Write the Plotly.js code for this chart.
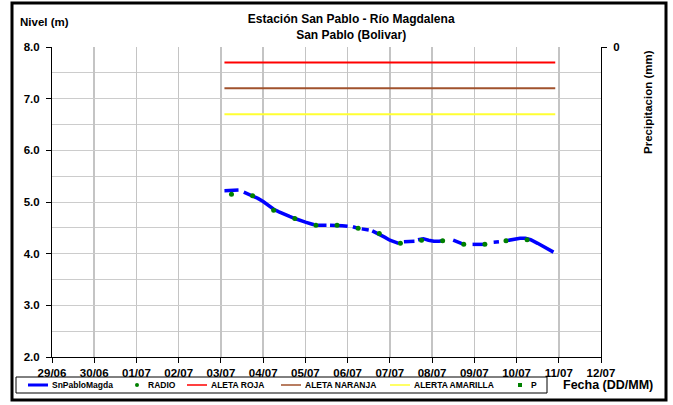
<!DOCTYPE html>
<html>
<head>
<meta charset="utf-8">
<script src="https://cdn.plot.ly/plotly-3.0.1.min.js"></script>
<style>
	html, body { margin: 0; padding: 0; background: #ffffff; }
	#plotContainer { width: 673px; height: 405px; }
</style>
</head>
<body>
<div id="plotContainer"></div>
<script>

// Blue level series (SnPabloMagda), null = missing reading
const levelTimes = [
	'2010-07-03 02:00', '2010-07-03 05:00', '2010-07-03 08:00', '2010-07-03 10:00', '2010-07-03 11:00',
	'2010-07-03 13:00', '2010-07-03 15:00', '2010-07-03 18:00', '2010-07-03 21:00', '2010-07-04 00:00',
	'2010-07-04 03:00', '2010-07-04 06:00', '2010-07-04 09:00', '2010-07-04 12:00', '2010-07-04 15:00',
	'2010-07-04 18:00', '2010-07-04 21:00', '2010-07-05 00:00', '2010-07-05 03:00', '2010-07-05 05:00',
	'2010-07-05 06:00', '2010-07-05 07:00', '2010-07-05 09:00', '2010-07-05 12:00', '2010-07-05 13:00',
	'2010-07-05 14:00', '2010-07-05 18:00', '2010-07-05 21:00', '2010-07-06 00:00', '2010-07-06 02:00',
	'2010-07-06 03:00', '2010-07-06 06:00', '2010-07-06 07:00', '2010-07-06 08:00', '2010-07-06 12:00',
	'2010-07-06 13:00', '2010-07-06 14:00', '2010-07-06 18:00', '2010-07-06 21:00', '2010-07-07 00:00',
	'2010-07-07 03:00', '2010-07-07 05:00', '2010-07-07 07:00', '2010-07-07 08:00', '2010-07-07 11:00',
	'2010-07-07 14:00', '2010-07-07 15:00', '2010-07-07 16:00', '2010-07-07 19:00', '2010-07-07 22:00',
	'2010-07-08 01:00', '2010-07-08 04:00', '2010-07-08 06:00', '2010-07-08 08:00', '2010-07-08 12:00',
	'2010-07-08 15:00', '2010-07-08 18:00', '2010-07-08 20:00', '2010-07-08 23:00', '2010-07-09 03:00',
	'2010-07-09 06:00', '2010-07-09 09:00', '2010-07-09 11:00', '2010-07-09 14:00', '2010-07-09 16:00',
	'2010-07-09 18:00', '2010-07-09 22:00', '2010-07-10 02:00', '2010-07-10 05:00', '2010-07-10 08:00',
	'2010-07-10 12:00', '2010-07-10 16:00', '2010-07-10 21:00'
];

const levelValues = [
	5.22, 5.23, 5.24, 5.23, null,
	5.19, 5.16, 5.12, 5.07, 5.01,
	4.93, 4.86, 4.81, 4.76, 4.72,
	4.68, 4.64, 4.61, 4.58, 4.56,
	null, 4.55, 4.55, 4.55, null,
	4.55, 4.55, 4.54, 4.53, null,
	4.52, 4.49, null, 4.48, 4.46,
	null, 4.44, 4.38, 4.32, 4.26,
	4.23, 4.20, null, 4.23, 4.24,
	4.24, null, 4.27, 4.29, 4.26,
	4.24, 4.24, 4.25, null, 4.26,
	4.22, 4.18, null, 4.18, 4.18,
	4.18, null, 4.22, 4.23, null,
	4.25, 4.28, 4.30, 4.30, 4.27,
	4.20, 4.12, 4.03
];

// Green RADIO readings, every 12 hours
const radioTimes = [
	'2010-07-03 06:00', '2010-07-03 18:00', '2010-07-04 06:00', '2010-07-04 18:00', '2010-07-05 06:00',
	'2010-07-05 18:00', '2010-07-06 06:00', '2010-07-06 18:00', '2010-07-07 06:00', '2010-07-07 18:00',
	'2010-07-08 06:00', '2010-07-08 18:00', '2010-07-09 06:00', '2010-07-09 18:00', '2010-07-10 06:00'
];

const radioValues = [
	5.15, 5.12, 4.84, 4.68, 4.55,
	4.55, 4.49, 4.39, 4.20, 4.26,
	4.25, 4.18, 4.18, 4.25, 4.27
];

// Alert thresholds
const alertSpan = [ '2010-07-03 02:00', '2010-07-10 22:00' ];
const alertRoja = 7.7;
const alertNaranja = 7.2;
const alertAmarilla = 6.7;

// Precipitation (no readings in this period)
const precipTimes = [ '2010-07-03 00:00' ];
const precipValues = [ null ];

const dayRange = [ '2010-06-29', '2010-07-12' ];

const legendNames = [ 'SnPabloMagda', 'RADIO', 'ALETA ROJA', 'ALETA NARANJA', 'ALERTA AMARILLA', 'P' ];
const legendColors = [ '#0000ff', '#008000', '#ff0000', '#a0522d', '#ffff33', '#008000' ];
const legendKinds = [ 'line', 'dot', 'line', 'line', 'line', 'square' ];

const boldFont = 'Liberation Sans, Arial, sans-serif';

// plot area in pixels
const M = { l: 52, r: 72, t: 47, b: 48 };
const plotW = 673 - M.l - M.r;
const plotH = 405 - M.t - M.b;

function px( x ) { return ( x - M.l ) / plotW; }
function py( y ) { return ( 405 - M.b - y ) / plotH; }

/**
 * Builds a flat alert line across the alert span.
 *
 * @param { String } name legend label
 * @param { Number } level alert level in metres
 * @param { String } color line colour
 */
function alertTrace( name, level, color ) {

	return {
		x: alertSpan,
		y: [ level, level ],
		name: name,
		type: 'scatter',
		mode: 'lines',
		line: { color: color, width: 2 }
	};

}

/**
 * Builds the boxed legend row under the plot (Excel style).
 *
 * @param { Array } shapes shapes list to push into
 * @param { Array } annotations annotations list to push into
 */
function buildLegend( shapes, annotations ) {

	// symbol start positions in pixels
	const starts = [ 28, 133, 187, 281, 390, 516 ];
	const yc = 385;

	shapes.push( {
		type: 'rect', xref: 'paper', yref: 'paper',
		x0: px( 16 ), x1: px( 547 ), y0: py( 393 ), y1: py( 377 ),
		line: { color: '#000000', width: 1 }, fillcolor: '#ffffff'
	} );

	for ( let i = 0; i < legendNames.length; i++ ) {

		const s = starts[ i ];
		let textX;

		if ( legendKinds[ i ] === 'line' ) {

			shapes.push( {
				type: 'line', xref: 'paper', yref: 'paper',
				x0: px( s ), x1: px( s + 20 ), y0: py( yc ), y1: py( yc ),
				line: { color: legendColors[ i ], width: i === 0 ? 3 : 1.5 }
			} );
			textX = s + 22;

		} else {

			shapes.push( {
				type: legendKinds[ i ] === 'dot' ? 'circle' : 'rect', xref: 'paper', yref: 'paper',
				x0: px( s + 2 ), x1: px( s + 6 ), y0: py( yc + 2 ), y1: py( yc - 2 ),
				line: { color: legendColors[ i ], width: 0 }, fillcolor: legendColors[ i ]
			} );
			textX = s + 13;

		}

		annotations.push( {
			text: legendNames[ i ],
			xref: 'paper', yref: 'paper',
			x: px( textX ), y: py( yc ),
			xanchor: 'left', yanchor: 'middle',
			showarrow: false,
			font: { family: boldFont, size: 8.5, weight: 'bold', color: '#000000' }
		} );

	}

}

/**
 * Creates level chart for San Pablo station.
 */
function createLevelChart() {

	const level = {
		x: levelTimes,
		y: levelValues,
		name: 'SnPabloMagda',
		type: 'scatter',
		mode: 'lines',
		connectgaps: false,
		line: { color: '#0000ff', width: 3.5 }
	};

	const radio = {
		x: radioTimes,
		y: radioValues,
		name: 'RADIO',
		type: 'scatter',
		mode: 'markers',
		marker: { color: '#008000', size: 5, symbol: 'circle' }
	};

	const precip = {
		x: precipTimes,
		y: precipValues,
		name: 'P',
		type: 'scatter',
		mode: 'markers',
		yaxis: 'y2',
		marker: { color: '#008000', size: 5, symbol: 'square' }
	};

	const data = [
		level,
		radio,
		alertTrace( 'ALETA ROJA', alertRoja, '#ff0000' ),
		alertTrace( 'ALETA NARANJA', alertNaranja, '#a0522d' ),
		alertTrace( 'ALERTA AMARILLA', alertAmarilla, '#ffff33' ),
		precip
	];

	const tickFont = { family: boldFont, size: 11.5, color: '#000000', weight: 'bold' };

	const shapes = [
		{
			type: 'rect',
			xref: 'paper', yref: 'paper',
			x0: px( 12 ), x1: px( 666 ),
			y0: py( 400 ), y1: py( 3 ),
			line: { color: '#000000', width: 3 },
			fillcolor: 'rgba(0,0,0,0)',
			layer: 'above'
		}
	];

	const annotations = [
		{
			text: 'Nivel (m)',
			xref: 'paper', yref: 'paper',
			x: px( 18 ), y: py( 22 ),
			xanchor: 'left', yanchor: 'middle',
			showarrow: false,
			font: { family: boldFont, size: 11.5, weight: 'bold' }
		},
		{
			text: 'Precipitacion (mm)',
			xref: 'paper', yref: 'paper',
			x: px( 648 ), y: py( 102 ),
			xanchor: 'center', yanchor: 'middle',
			textangle: -90,
			showarrow: false,
			font: { family: boldFont, size: 11.5, weight: 'bold' }
		},
		{
			text: 'Fecha (DD/MM)',
			xref: 'paper', yref: 'paper',
			x: px( 561 ), y: py( 385 ),
			xanchor: 'left', yanchor: 'middle',
			showarrow: false,
			font: { family: boldFont, size: 12.5, weight: 'bold' }
		}
	];

	buildLegend( shapes, annotations );

	const layout = {
		width: 673,
		height: 405,
		margin: { l: M.l, r: M.r, t: M.t, b: M.b, autoexpand: false },
		paper_bgcolor: '#ffffff',
		plot_bgcolor: '#ffffff',
		font: { family: boldFont, color: '#000000' },
		showlegend: false,
		title: {
			text: 'Estación San Pablo - Río Magdalena<br>San Pablo (Bolivar)',
			font: { family: boldFont, size: 12, weight: 'bold', color: '#000000' },
			xref: 'paper',
			x: 0.545,
			xanchor: 'center',
			yref: 'container',
			y: 0.943,
			yanchor: 'middle'
		},
		xaxis: {
			type: 'date',
			range: dayRange,
			dtick: 86400000,
			tickformat: '%d/%m',
			tickfont: tickFont,
			ticks: 'outside',
			ticklen: 5,
			tickcolor: '#000000',
			showline: true,
			linecolor: '#000000',
			linewidth: 1,
			showgrid: true,
			gridcolor: '#c4c4c4',
			gridwidth: 1.5,
			zeroline: false
		},
		yaxis: {
			range: [ 2, 8 ],
			dtick: 1,
			tickformat: '.1f',
			tickfont: tickFont,
			ticks: 'outside',
			ticklen: 5,
			ticklabelstandoff: 4,
			tickcolor: '#000000',
			showline: true,
			linecolor: '#000000',
			linewidth: 1,
			showgrid: true,
			gridcolor: '#cccccc',
			gridwidth: 1,
			minor: { dtick: 0.5, showgrid: true, gridcolor: '#cccccc', gridwidth: 1 },
			zeroline: false
		},
		yaxis2: {
			overlaying: 'y',
			side: 'right',
			range: [ 50, 0 ],
			tickvals: [ 0 ],
			ticktext: [ '0' ],
			tickfont: tickFont,
			ticks: 'outside',
			ticklen: 5,
			ticklabelstandoff: 4,
			tickcolor: '#000000',
			showline: true,
			linecolor: '#000000',
			linewidth: 1,
			showgrid: false,
			zeroline: false
		},
		annotations: annotations,
		shapes: shapes
	};

	Plotly.newPlot( 'plotContainer', data, layout, { displayModeBar: false, staticPlot: true } );

}

createLevelChart();

</script>
</body>
</html>
